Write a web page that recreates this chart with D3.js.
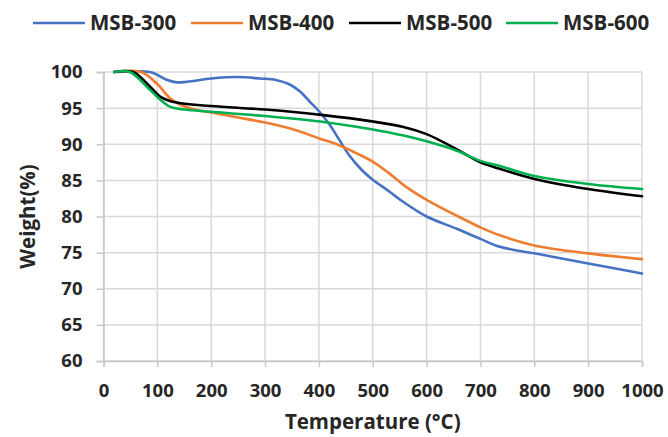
<!DOCTYPE html>
<html>
<head>
<meta charset="utf-8">
<script src="https://cdn.jsdelivr.net/npm/d3@7"></script>
<style>
  body { margin: 0; background: #fff; }
  text { font-family: "Open Sans", "Liberation Sans", sans-serif; font-weight: bold; fill: #262626; }
</style>
</head>
<body>
<div id="chart"></div>
<script>
// temperatures (°C) and weight (%)
var temp300 = [20, 86, 100, 115, 133, 150, 170, 200, 250, 291, 320, 345, 365, 383, 401, 420, 438, 457, 480, 500, 530, 557, 600, 656, 700, 736, 800, 900, 1000];
var msb300  = [100, 100, 99.6, 99.0, 98.6, 98.6, 98.8, 99.1, 99.3, 99.1, 98.9, 98.3, 97.3, 95.9, 94.5, 92.7, 90.6, 88.4, 86.4, 85.1, 83.5, 82.0, 80.0, 78.3, 76.9, 75.8, 74.9, 73.5, 72.1];

var temp400 = [20, 70, 99, 123, 142, 170, 200, 250, 300, 350, 401, 430, 460, 500, 530, 560, 600, 656, 700, 736, 800, 900, 1000];
var msb400  = [100, 100, 98.4, 96.4, 95.5, 94.8, 94.4, 93.7, 93.0, 92.1, 90.8, 90.1, 89.1, 87.6, 86.0, 84.2, 82.3, 80.1, 78.5, 77.4, 76.0, 74.9, 74.1];

var temp500 = [20, 55, 86, 105, 133, 200, 300, 412, 495, 557, 600, 656, 700, 736, 800, 900, 1000];
var msb500  = [100, 100, 98, 96.6, 95.8, 95.3, 94.8, 94.0, 93.2, 92.4, 91.4, 89.3, 87.5, 86.6, 85.2, 83.8, 82.8];

var temp600 = [20, 49, 80, 102, 123, 150, 200, 300, 412, 495, 557, 600, 656, 700, 736, 800, 900, 1000];
var msb600  = [100, 100, 98, 96.4, 95.2, 94.8, 94.5, 93.9, 93.05, 92.1, 91.2, 90.4, 89.1, 87.7, 87.0, 85.6, 84.5, 83.8];

var seriesNames = ["MSB-300", "MSB-400", "MSB-500", "MSB-600"];
var seriesColors = ["#4472C4", "#ED7D31", "#000000", "#00B050"];
var xTicks = [0, 100, 200, 300, 400, 500, 600, 700, 800, 900, 1000];
var yTicks = [60, 65, 70, 75, 80, 85, 90, 95, 100];

var width = 668, height = 437;
var plotLeft = 103.5, plotRight = 642, plotTop = 72, plotBottom = 361;

var svg = d3.select("#chart").append("svg")
    .attr("width", width)
    .attr("height", height);

var x = d3.scaleLinear().domain([0, 1000]).range([plotLeft, plotRight]);
var y = d3.scaleLinear().domain([60, 100]).range([plotBottom, plotTop]);

// grid
svg.append("g")
   .selectAll("line")
   .data(yTicks)
   .enter()
   .append("line")
   .attr("x1", plotLeft).attr("x2", plotRight)
   .attr("y1", function (d) {return y(d);})
   .attr("y2", function (d) {return y(d);})
   .style("stroke", "#d9d9d9")
   .style("stroke-width", 1.5);

svg.append("g")
   .selectAll("line")
   .data(xTicks)
   .enter()
   .append("line")
   .attr("y1", plotTop).attr("y2", plotBottom)
   .attr("x1", function (d) {return x(d);})
   .attr("x2", function (d) {return x(d);})
   .style("stroke", "#d9d9d9")
   .style("stroke-width", 1.5);

// axes
var xAxis = svg.append("g")
   .attr("transform", "translate(0," + plotBottom + ")")
   .call(d3.axisBottom(x).tickValues(xTicks).tickFormat(d3.format("d")).tickSize(6).tickPadding(17));

var yAxis = svg.append("g")
   .attr("transform", "translate(" + plotLeft + ",0)")
   .call(d3.axisLeft(y).tickValues(yTicks).tickFormat(d3.format("d")).tickSize(7).tickPadding(14));

[xAxis, yAxis].forEach(function (a) {
    a.select(".domain").style("stroke", "#c8c8c8").style("stroke-width", 1.5);
    a.selectAll(".tick line").style("stroke", "#c8c8c8").style("stroke-width", 1.5);
    a.selectAll("text").style("font-size", "18.5px").attr("font-family", null);
});

// curves
var all = [
    {name: seriesNames[0], t: temp300, w: msb300},
    {name: seriesNames[1], t: temp400, w: msb400},
    {name: seriesNames[2], t: temp500, w: msb500},
    {name: seriesNames[3], t: temp600, w: msb600}
];

var lineGenerator = d3.line()
    .x(function (d) {return x(d[0]);})
    .y(function (d) {return y(d[1]);})
    .curve(d3.curveCatmullRom.alpha(0.5));

svg.append("g")
   .selectAll("path")
   .data(all)
   .enter()
   .append("path")
   .attr("d", function (d) {return lineGenerator(d.t.map(function (t, i) {return [t, d.w[i]];}));})
   .style("fill", "none")
   .style("stroke", function (d, i) {return seriesColors[i];})
   .style("stroke-width", 2.6)
   .style("stroke-linecap", "round");

// legend
var legendX = [33, 191, 349, 506];
var legend = svg.append("g")
   .selectAll("g")
   .data(seriesNames)
   .enter()
   .append("g")
   .attr("transform", function (d, i) {return "translate(" + legendX[i] + ",23)";});

legend.append("line")
   .attr("x1", 0).attr("x2", 52)
   .style("stroke", function (d, i) {return seriesColors[i];})
   .style("stroke-width", 2.6);

legend.append("text")
   .attr("x", 57)
   .attr("dy", "0.35em")
   .style("font-size", "20.5px")
   .text(function (d) {return d;});

// axis titles
svg.append("text")
   .attr("x", (plotLeft + plotRight) / 2)
   .attr("y", 429)
   .style("text-anchor", "middle")
   .style("font-size", "20.5px")
   .text("Temperature (°C)");

svg.append("text")
   .attr("transform", "translate(28," + ((plotTop + plotBottom) / 2) + ") rotate(-90)")
   .attr("dy", "0.35em")
   .style("text-anchor", "middle")
   .style("font-size", "20.5px")
   .text("Weight(%)");
</script>
</body>
</html>
